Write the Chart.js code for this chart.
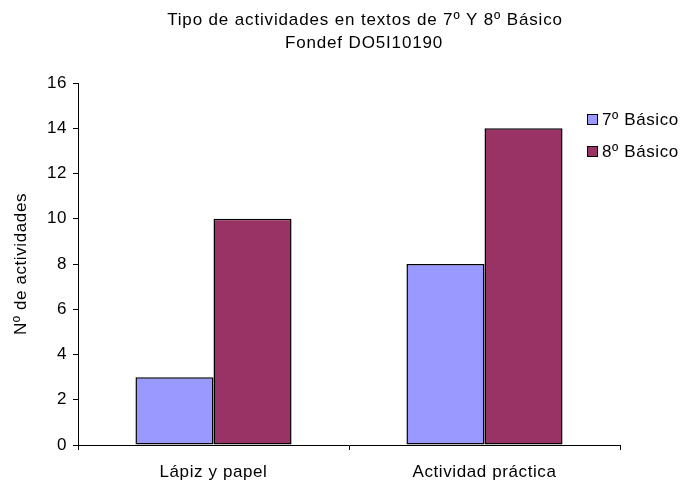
<!DOCTYPE html>
<html>
<head>
<meta charset="utf-8">
<script src="https://cdn.jsdelivr.net/npm/chart.js@4.4.1/dist/chart.umd.min.js"></script>
<style>
  html, body { margin: 0; padding: 0; background: #ffffff; }
  #wrap { width: 683px; height: 481px; }
</style>
</head>
<body>
<div id="wrap"><canvas id="chart" width="683" height="481"></canvas></div>
<script>
// Chart data
const categories = ['Lápiz y papel', 'Actividad práctica'];
const seriesNames = ['7º Básico', '8º Básico'];
const values7 = [3, 8];
const values8 = [10, 14];
const yTicks = [0, 2, 4, 6, 8, 10, 12, 14, 16];
const titleLines = ['Tipo de actividades en textos de 7º Y 8º Básico', 'Fondef DO5I10190'];
const yAxisTitle = 'Nº de actividades';

const FONT = '"Liberation Sans", Arial, sans-serif';
const FONT_SIZE = 17;
const SPACING = '0.6px';

// Slightly widened lettering for every label the chart draws
const letterSpacingPlugin = {
  id: 'letterSpacing',
  beforeDraw(chart) { chart.ctx.letterSpacing = SPACING; }
};

// Two-line heading drawn above the plot
const headingPlugin = {
  id: 'heading',
  afterDraw(chart) {
    const ctx = chart.ctx;
    ctx.save();
    ctx.letterSpacing = '0.85px';
    ctx.fillStyle = '#000';
    ctx.font = FONT_SIZE + 'px ' + FONT;
    ctx.textAlign = 'center';
    ctx.textBaseline = 'alphabetic';
    ctx.fillText(titleLines[0], 365, 25);
    ctx.fillText(titleLines[1], 364, 48);
    ctx.restore();
  }
};

// Legend with square swatches placed at the right of the plot
const sideLegendPlugin = {
  id: 'sideLegend',
  afterDraw(chart) {
    const ctx = chart.ctx;
    ctx.save();
    ctx.letterSpacing = SPACING;
    ctx.font = FONT_SIZE + 'px ' + FONT;
    ctx.textBaseline = 'middle';
    ctx.textAlign = 'left';
    chart.data.datasets.forEach((ds, i) => {
      const y = 120 + i * 32;
      ctx.fillStyle = ds.backgroundColor;
      ctx.fillRect(587.5, y - 5.5, 10, 10);
      ctx.strokeStyle = '#000';
      ctx.lineWidth = 1;
      ctx.strokeRect(587.5, y - 5.5, 10, 10);
      ctx.fillStyle = '#000';
      ctx.fillText(ds.label, 602, y);
    });
    ctx.restore();
  }
};

new Chart(document.getElementById('chart'), {
  type: 'bar',
  data: {
    labels: categories,
    datasets: [
      { label: seriesNames[0], data: values7, backgroundColor: '#9999FF', borderColor: '#000', borderWidth: 1.5, borderSkipped: false },
      { label: seriesNames[1], data: values8, backgroundColor: '#993366', borderColor: '#000', borderWidth: 1.5, borderSkipped: false }
    ]
  },
  options: {
    responsive: false,
    animation: false,
    events: [],
    layout: { padding: { left: 0, right: 63, top: 83, bottom: 0 } },
    datasets: { bar: { barPercentage: 1, categoryPercentage: 0.576 } },
    plugins: { legend: { display: false }, title: { display: false }, tooltip: { enabled: false } },
    scales: {
      x: {
        grid: { display: true, offset: true, drawOnChartArea: false, drawTicks: true, tickLength: 5, color: '#000' },
        border: { display: true, color: '#000', width: 1 },
        ticks: { color: '#000', font: { family: FONT, size: FONT_SIZE }, padding: 12 },
        afterFit(scale) { scale.height = 36; }
      },
      y: {
        min: 0,
        max: 16,
        afterBuildTicks(scale) { scale.ticks = yTicks.map(v => ({ value: v })); },
        grid: { display: true, drawOnChartArea: false, drawTicks: true, tickLength: 5, color: '#000' },
        border: { display: true, color: '#000', width: 1 },
        ticks: { color: '#000', font: { family: FONT, size: FONT_SIZE }, padding: 6 },
        title: { display: true, text: yAxisTitle, color: '#000', font: { family: FONT, size: FONT_SIZE }, padding: { top: 11, bottom: 0 } },
        afterFit(scale) { scale.width = 78; }
      }
    }
  },
  plugins: [letterSpacingPlugin, headingPlugin, sideLegendPlugin]
});
</script>
</body>
</html>
